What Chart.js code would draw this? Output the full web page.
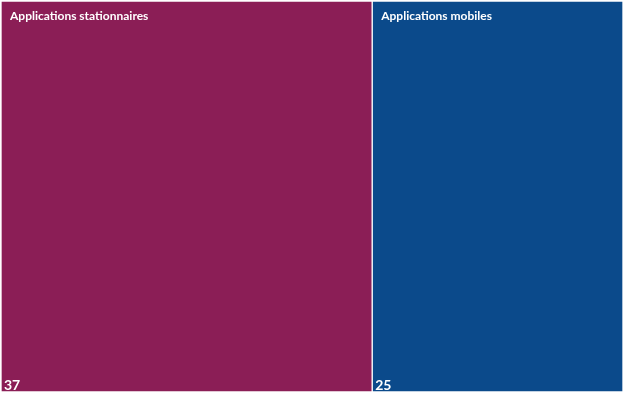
<!DOCTYPE html>
<html>

<head>
    <title>Treemap</title>
    <meta charset="utf-8">
    <style>
        body { margin: 0; background: #fff; }
        #wrap { width: 624px; height: 393px; }
    </style>
</head>

<body>
    <div id="wrap"><canvas id="myChart"></canvas></div>

    <script src="https://cdn.jsdelivr.net/npm/chart.js"></script>
    <script>
        const categories = ["Applications stationnaires", "Applications mobiles"];
        const values = [37, 25];
        const colors = ["#8b1e56", "#0b4a8b"];

        const total = values.reduce((a, b) => a + b, 0);

        // writes the name at top left and the value at bottom left of each block
        const tileLabels = {
            id: "tileLabels",
            afterDatasetsDraw(chart) {
                const ctx = chart.ctx;
                ctx.save();
                ctx.fillStyle = "#ffffff";
                ctx.textAlign = "left";
                chart.data.datasets.forEach((ds, i) => {
                    const bar = chart.getDatasetMeta(i).data[0];
                    const left = Math.min(bar.base, bar.x);
                    const top = bar.y - bar.height / 2;
                    const bottom = bar.y + bar.height / 2;

                    ctx.font = "bold 12px Lato";
                    ctx.textBaseline = "middle";
                    ctx.fillText(ds.label, left + 9, top + 15);

                    ctx.font = "bold 14px Lato";
                    ctx.textBaseline = "alphabetic";
                    ctx.fillText(ds.data[0], left + 3, bottom - 2);
                });
                ctx.restore();
            }
        };

        const ctx = document.getElementById('myChart');

        let chart = new Chart(ctx, {
            type: "bar",
            data: {
                labels: [""],
                datasets: categories.map((c, i) => ({
                    label: c,
                    data: [values[i]],
                    backgroundColor: colors[i],
                    borderColor: "#ffffff",
                    borderWidth: 1,
                    borderSkipped: false,
                    barPercentage: 1,
                    categoryPercentage: 1
                }))
            },
            options: {
                indexAxis: "y",
                responsive: true,
                maintainAspectRatio: false,
                animation: false,
                layout: { padding: 1 },
                plugins: {
                    legend: { display: false },
                    tooltip: { enabled: false }
                },
                scales: {
                    x: { stacked: true, display: false, min: 0, max: total },
                    y: { stacked: true, display: false }
                }
            },
            plugins: [tileLabels]
        });
    </script>
</body>

</html>
